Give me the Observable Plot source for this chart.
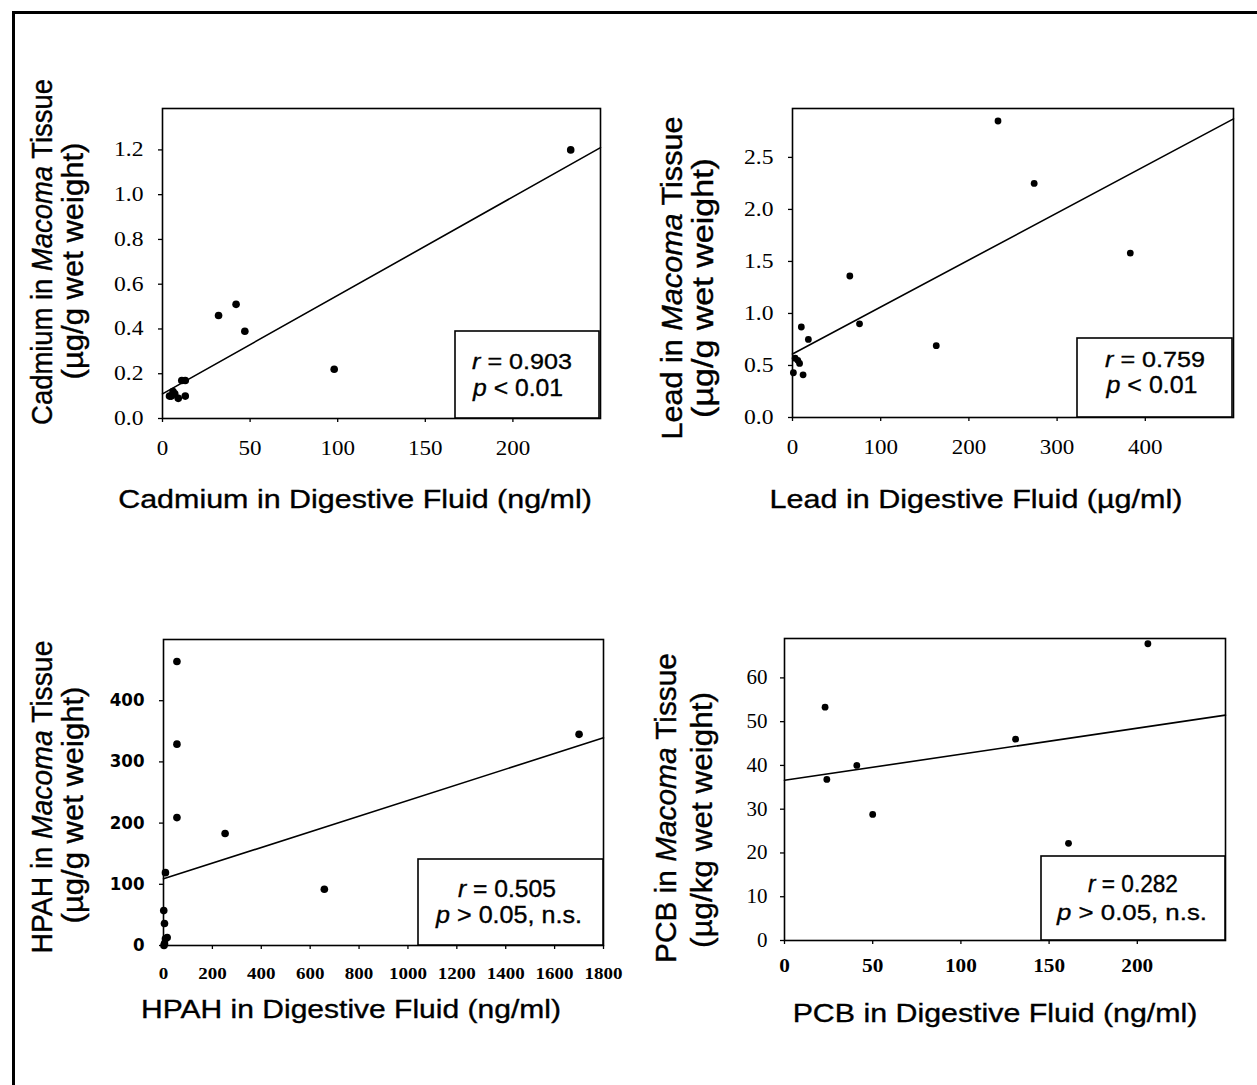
<!DOCTYPE html>
<html><head><meta charset="utf-8">
<script src="https://cdn.jsdelivr.net/npm/d3@7"></script>
<script src="https://cdn.jsdelivr.net/npm/@observablehq/plot@0.6"></script>
<style>
body{margin:0;background:#fff;}
#page{position:relative;width:1257px;height:1085px;background:#fff;overflow:hidden;}
.panel{position:absolute;}
.bt{position:absolute;left:12px;top:11px;width:1245px;height:3px;background:#000;}
.bl{position:absolute;left:12px;top:11px;width:3px;height:1074px;background:#000;}
</style></head>
<body><div id="page"><div class="bt"></div><div class="bl"></div></div>
<script>
// ---------- data ----------
const cadmiumFluid  = [233, 32, 42, 47, 98, 11, 13, 13, 4, 6, 7, 9, 5];
const cadmiumTissue = [1.20, 0.46, 0.51, 0.39, 0.22, 0.17, 0.17, 0.10, 0.10, 0.12, 0.11, 0.09, 0.10];
const cadmiumFit = {intercept: 0.11, slope: 0.0044};
const cadmiumXTicks = [0, 50, 100, 150, 200];
const cadmiumYTicks = [0, 0.2, 0.4, 0.6, 0.8, 1.0, 1.2];

const leadFluid  = [233, 274, 383, 65, 76, 163, 10, 18, 3, 6, 8, 1, 12];
const leadTissue = [2.85, 2.25, 1.58, 1.36, 0.90, 0.69, 0.87, 0.75, 0.57, 0.55, 0.52, 0.43, 0.41];
const leadFit = {intercept: 0.61, slope: 0.00452};
const leadXTicks = [0, 100, 200, 300, 400];
const leadYTicks = [0, 0.5, 1.0, 1.5, 2.0, 2.5];

const hpahFluid  = [55, 55, 55, 252, 658, 1700, 8, 1, 4, 8, 15, 4, 2];
const hpahTissue = [464, 329, 209, 183, 92, 345, 119, 57, 36, 11, 13, 3, 0];
const hpahFit = {intercept: 109, slope: 0.128};
const hpahXTicks = [0, 200, 400, 600, 800, 1000, 1200, 1400, 1600, 1800];
const hpahYTicks = [0, 100, 200, 300, 400];

const pcbFluid  = [23, 24, 41, 50, 131, 161, 206];
const pcbTissue = [53.3, 36.8, 40.0, 28.8, 46.0, 22.2, 67.8];
const pcbFit = {intercept: 36.6, slope: 0.0596};
const pcbXTicks = [0, 50, 100, 150, 200];
const pcbYTicks = [0, 10, 20, 30, 40, 50, 60];

const stats = {
  cadmium: ["0.903", "< 0.01"],
  lead: ["0.759", "< 0.01"],
  hpah: ["0.505", "> 0.05, n.s."],
  pcb: ["0.282", "> 0.05, n.s."]
};

// ---------- layout ----------
const SANS = "Liberation Sans, Arial, sans-serif";
const SERIF = "Liberation Serif, Times New Roman, serif";

function addText(svg, o) {
  const g = d3.select(svg).append("g");
  const t = g.append("text")
    .attr("text-anchor", o.anchor || "middle")
    .attr("font-size", o.size)
    .attr("font-family", o.family || SANS)
    .attr("fill", "black")
    .attr("stroke", "black").attr("stroke-width", 0.35);
  o.parts.forEach(p => {
    const ts = t.append("tspan").text(p.t);
    if (p.i) ts.attr("font-style", "italic");
  });
  const w = t.node().getComputedTextLength() || o.len;
  const k = o.len ? o.len / w : 1;
  if (o.rotate) g.attr("transform", `translate(${o.x},${o.y}) rotate(${o.rotate}) scale(${k},${o.sh || 1})`);
  else g.attr("transform", `translate(${o.x},${o.y}) scale(${k},1)`);
}

function panel(c) {
  const R = c.region, F = c.frame;
  const pts = c.fx.map((x, i) => ({x, y: c.fy[i]}));
  const fitLine = c.xDomain.map(x => ({x, y: c.fit.intercept + c.fit.slope * x}));
  const svg = Plot.plot({
    width: R.w, height: R.h,
    marginLeft: F.x0 - R.x, marginRight: R.x + R.w - F.x1,
    marginTop: F.y0 - R.y, marginBottom: R.y + R.h - F.y1,
    x: {domain: c.xDomain, label: null},
    y: {domain: c.yDomain, label: null},
    style: {background: "transparent", overflow: "visible", maxWidth: "none", color: "black"},
    marks: [
      Plot.axisX({ticks: c.xTicks, tickSize: 4, tickPadding: c.xPad, strokeWidth: 1.3,
        tickFormat: d => String(d), fontSize: c.xFont[0], fontFamily: c.xFont[1], fontWeight: c.xFont[2]}),
      Plot.axisY({ticks: c.yTicks, tickSize: 4, tickPadding: c.yPad, strokeWidth: 1.3,
        tickFormat: c.yFmt, fontSize: c.yFont[0], fontFamily: c.yFont[1], fontWeight: c.yFont[2]}),
      Plot.line(fitLine, {x: "x", y: "y", stroke: "black", strokeWidth: 1.6}),
      Plot.dot(pts, {x: "x", y: "y", r: c.r, fill: "black"}),
      Plot.frame({stroke: "black", strokeWidth: 1.6})
    ]
  });
  const div = document.createElement("div");
  div.className = "panel";
  div.style.left = R.x + "px"; div.style.top = R.y + "px";
  div.appendChild(svg);
  document.getElementById("page").appendChild(div);

  // widen tick labels like the scanned original
  const scaleLab = (sel, s) => d3.select(svg).selectAll(sel).each(function () {
    const tr = this.getAttribute("transform");
    if (tr) this.setAttribute("transform", tr + ` scale(${s},1)`);
    else {
      const x = this.getAttribute("x") || 0, y = this.getAttribute("y") || 0;
      this.setAttribute("transform", `translate(${x},${y}) scale(${s},1)`);
      this.setAttribute("x", 0); this.setAttribute("y", 0);
    }
  });
  scaleLab('g[aria-label="x-axis tick label"] text', c.xFont[3]);
  scaleLab('g[aria-label="y-axis tick label"] text', c.yFont[3]);

  // statistics box
  const B = c.box;
  d3.select(svg).append("rect")
    .attr("x", B.x0 - R.x).attr("y", B.y0 - R.y)
    .attr("width", B.x1 - B.x0).attr("height", B.y1 - B.y0)
    .attr("fill", "white").attr("stroke", "black").attr("stroke-width", 1.6);
  addText(svg, {x: B.r[0] - R.x, y: B.r[1] - R.y, size: 23, len: B.r[2],
    parts: [{t: "r", i: true}, {t: " = " + c.stat[0]}]});
  addText(svg, {x: B.p[0] - R.x, y: B.p[1] - R.y, size: 23, len: B.p[2],
    parts: [{t: "p", i: true}, {t: " " + c.stat[1]}]});

  // axis titles
  addText(svg, {x: c.xt[0] - R.x, y: c.xt[1] - R.y, size: 26, len: c.xt[2], parts: [{t: c.xTitle}]});
  addText(svg, {x: c.yt1[0] - R.x, y: c.yt1[1] - R.y, size: c.ytSize, len: c.yt1[2], rotate: -90, sh: 1.12,
    parts: [{t: c.yName + " in "}, {t: "Macoma", i: true}, {t: " Tissue"}]});
  addText(svg, {x: c.yt2[0] - R.x, y: c.yt2[1] - R.y, size: c.ytSize, len: c.yt2[2], rotate: -90, sh: 1.12,
    parts: [{t: c.yUnit}]});
}

const f1 = d => d.toFixed(1);
const fi = d => String(d);

panel({
  region: {x: 16, y: 16, w: 604, h: 540},
  frame: {x0: 162, x1: 600, y0: 108, y1: 418},
  fx: cadmiumFluid, fy: cadmiumTissue, fit: cadmiumFit,
  xDomain: [0, 250], yDomain: [0, 1.385], xTicks: cadmiumXTicks, yTicks: cadmiumYTicks, yFmt: f1,
  xPad: 18, yPad: 15, xFont: [20, SERIF, "normal", 1.15], yFont: [20, SERIF, "normal", 1.18], r: 3.8,
  box: {x0: 455, x1: 599, y0: 331, y1: 418, r: [522, 369, 100], p: [518, 396, 90]},
  stat: stats.cadmium,
  xTitle: "Cadmium in Digestive Fluid (ng/ml)", xt: [355, 508, 474],
  yName: "Cadmium", yUnit: "(µg/g wet weight)", ytSize: 26,
  yt1: [52, 252, 346], yt2: [83, 261, 237]
});

panel({
  region: {x: 620, y: 16, w: 637, h: 540},
  frame: {x0: 792, x1: 1233, y0: 108, y1: 417},
  fx: leadFluid, fy: leadTissue, fit: leadFit,
  xDomain: [0, 500], yDomain: [0, 2.97], xTicks: leadXTicks, yTicks: leadYTicks, yFmt: f1,
  xPad: 18, yPad: 15, xFont: [20, SERIF, "normal", 1.15], yFont: [20, SERIF, "normal", 1.18], r: 3.4,
  box: {x0: 1077, x1: 1232, y0: 338, y1: 417, r: [1155, 367, 100], p: [1152, 393, 91]},
  stat: stats.lead,
  xTitle: "Lead in Digestive Fluid (µg/ml)", xt: [976, 508, 413],
  yName: "Lead", yUnit: "(µg/g wet weight)", ytSize: 27,
  yt1: [682, 278, 323], yt2: [713, 288, 260]
});

panel({
  region: {x: 16, y: 560, w: 604, h: 520},
  frame: {x0: 163, x1: 603, y0: 639, y1: 945},
  fx: hpahFluid, fy: hpahTissue, fit: hpahFit,
  xDomain: [0, 1800], yDomain: [0, 500], xTicks: hpahXTicks, yTicks: hpahYTicks, yFmt: fi,
  xPad: 17, yPad: 15, xFont: [17, SERIF, "bold", 1.12], yFont: [17, "DejaVu Sans, Verdana, sans-serif", "bold", 0.98], r: 3.8,
  box: {x0: 418, x1: 603, y0: 859, y1: 945, r: [507, 897, 98], p: [509, 923, 146]},
  stat: stats.hpah,
  xTitle: "HPAH in Digestive Fluid (ng/ml)", xt: [351, 1018, 420],
  yName: "HPAH", yUnit: "(µg/g wet weight)", ytSize: 26,
  yt1: [52, 797, 313], yt2: [83, 805, 237]
});

panel({
  region: {x: 620, y: 560, w: 637, h: 520},
  frame: {x0: 784, x1: 1225, y0: 638, y1: 940},
  fx: pcbFluid, fy: pcbTissue, fit: pcbFit,
  xDomain: [0, 250], yDomain: [0, 69], xTicks: pcbXTicks, yTicks: pcbYTicks, yFmt: fi,
  xPad: 14, yPad: 13, xFont: [19, SERIF, "bold", 1.12], yFont: [20, SERIF, "normal", 1.05], r: 3.4,
  box: {x0: 1041, x1: 1225, y0: 856, y1: 940, r: [1133, 892, 90], p: [1132, 920, 150]},
  stat: stats.pcb,
  xTitle: "PCB in Digestive Fluid (ng/ml)", xt: [995, 1022, 405],
  yName: "PCB", yUnit: "(µg/kg wet weight)", ytSize: 27,
  yt1: [676, 808, 310], yt2: [712, 820, 256]
});
</script>
</body></html>
